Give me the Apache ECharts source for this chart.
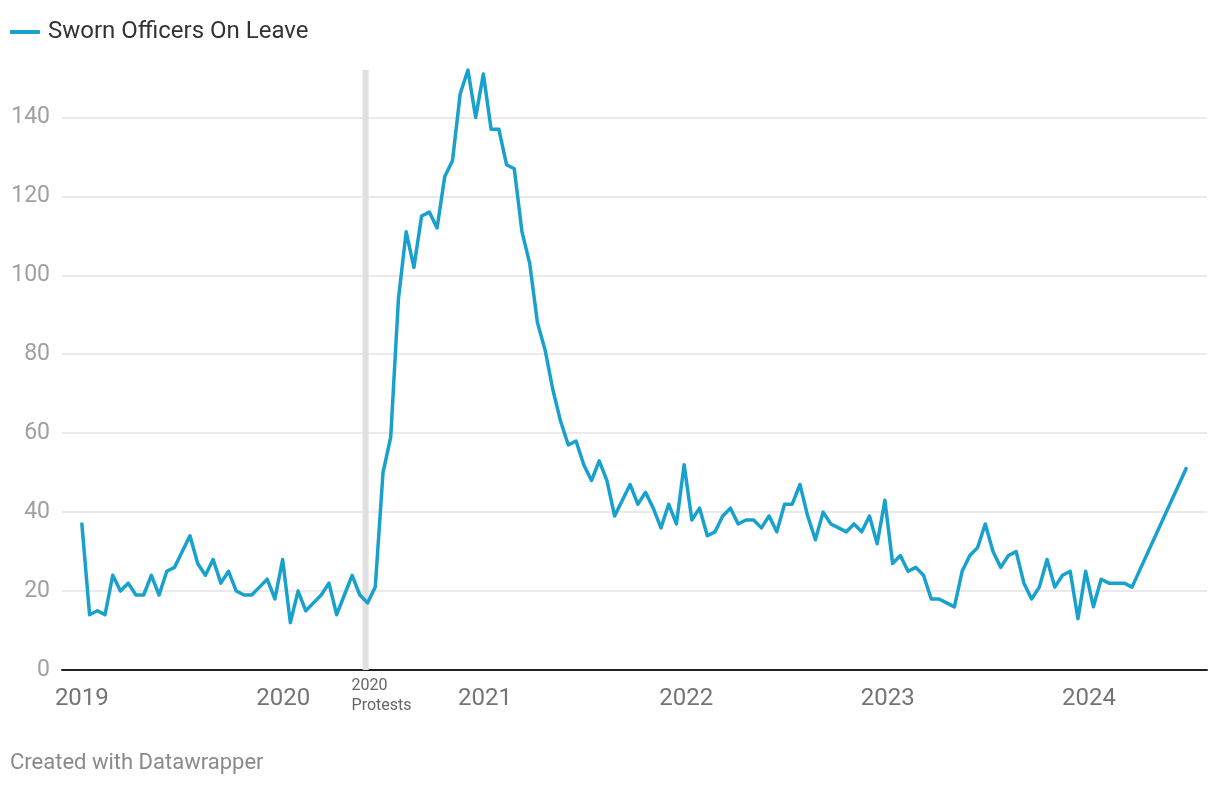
<!DOCTYPE html>
<html><head><meta charset="utf-8">
<script src="https://cdn.jsdelivr.net/npm/echarts@6/dist/echarts.min.js"></script>
<style>html,body{margin:0;padding:0;background:#fff}#c{width:1220px;height:786px}</style>
</head><body><div id="c"></div>
<script>
const seriesName = 'Sworn Officers On Leave';
const firstPeriod = '2019-01-01';   // first bi-weekly reporting period
const periodDays = 14;              // bi-weekly periods
// one value per bi-weekly period (null = not reported)
const officersOnLeave = [
  37,14,15,14,24,20,22,19,19,24,19,25,26,30,34,27,24,28,22,25,20,19,19,21,23,18,
  28,12,20,15,17,19,22,14,19,24,19,17,21,50,59,94,111,102,115,116,112,125,129,146,152,140,
  151,137,137,128,127,111,103,88,81,71,63,57,58,52,48,53,48,39,43,47,42,45,41,36,42,37,
  52,38,41,34,35,39,41,37,38,38,36,39,35,42,42,47,39,33,40,37,36,35,37,35,39,32,43,27,
  29,25,26,24,18,18,17,16,25,29,31,37,30,26,29,30,22,18,21,28,21,24,25,13,
  25,16,23,22,22,22,21,null,null,null,null,null,null,51
];
const yearTicks = ['2019','2020','2021','2022','2023','2024'];
const protestPeriod = ['2020-05-24','2020-06-04'];
const protestLabel = '2020\nProtests';
const footerText = 'Created with Datawrapper';

const DAY = 86400000;
const t0 = Date.parse(firstPeriod + 'T00:00:00Z');
const seriesData = officersOnLeave.map((v, i) => [t0 + i * periodDays * DAY, v]);
const yearValues = yearTicks.map(y => Date.UTC(+y, 0, 1));
const FONT = 'Roboto, "Noto Sans", sans-serif';

const chart = echarts.init(document.getElementById('c'), null, {renderer: 'canvas'});
chart.setOption({
  animation: false,
  backgroundColor: '#fff',
  textStyle: {fontFamily: FONT},
  legend: {
    left: 10, top: 19, padding: 0,
    icon: 'roundRect', itemWidth: 30, itemHeight: 4,
    textStyle: {fontSize: 24, lineHeight: 26, color: '#333', fontFamily: FONT, padding: [0, 0, 0, 3]},
    data: [seriesName]
  },
  grid: {left: 62, right: 13, top: 70, bottom: 116, containLabel: false},
  xAxis: {
    type: 'value',
    min: t0 - 36 * DAY,
    max: t0 + 2040 * DAY,
    axisLine: {show: true, lineStyle: {color: '#222', width: 2}},
    axisTick: {show: false},
    splitLine: {show: false},
    axisLabel: {
      customValues: yearValues,
      formatter: v => String(new Date(v).getUTCFullYear()),
      fontSize: 24, color: '#747474', margin: 17, fontFamily: FONT
    }
  },
  yAxis: {
    type: 'value', min: 0, max: 152, interval: 20,
    axisLine: {show: false}, axisTick: {show: false},
    axisLabel: {fontSize: 23, color: '#a0a0a0', margin: 12, showMaxLabel: false, fontFamily: FONT},
    splitLine: {show: true, showMaxLine: false, lineStyle: {color: '#e3e3e3', width: 1.5}}
  },
  series: [{
    name: seriesName,
    type: 'line',
    data: seriesData,
    connectNulls: true,
    showSymbol: false,
    symbol: 'none',
    z: 5,
    lineStyle: {color: '#18a1cd', width: 3.5, join: 'round', cap: 'round'},
    itemStyle: {color: '#18a1cd'},
    markArea: {
      silent: true,
      itemStyle: {color: '#e0e0e0'},
      label: {
        show: true, position: 'bottom', formatter: protestLabel,
        align: 'left', offset: [-14, 0], distance: 6,
        fontSize: 16, lineHeight: 20, color: '#666', fontFamily: FONT
      },
      data: [[{xAxis: Date.parse(protestPeriod[0] + 'T00:00:00Z'), yAxis: 0},
              {xAxis: Date.parse(protestPeriod[1] + 'T00:00:00Z'), yAxis: 152}]]
    }
  }],
  graphic: [{
    type: 'text', left: 10, top: 752,
    style: {text: footerText, fontSize: 22, fill: '#8a8a8a', fontFamily: FONT}
  }]
});
</script></body></html>
